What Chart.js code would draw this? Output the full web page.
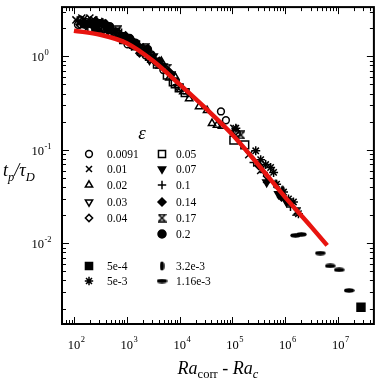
<!DOCTYPE html>
<html>
<head>
<meta charset="utf-8">
<script src="https://cdn.jsdelivr.net/npm/chart.js@4/dist/chart.umd.min.js"></script>
<style>
  html, body { margin: 0; padding: 0; background: #fff; }
  canvas { display: block; }
</style>
</head>
<body>
<canvas id="chart" width="381" height="382"></canvas>
<script>
// axis ranges (log scales)
const xMin = 59.4, xMax = 4.75e7;
const yMin = 0.00137, yMax = 3.36;
const xTickExps = ['2', '3', '4', '5', '6', '7'];
const yTickExps = ['-2', '-1', '0'];

// data, [Ra_corr - Ra_c, t_p/tau_D]
const eps0091 = [[119, 2.17], [168, 2.34], [336, 2.07], [671, 1.79], [1035, 1.34], [1463, 1.40], [2256, 1.025], [2925, 1.05], [4918, 0.713], [60560, 0.257], [75150, 0.207], [121000, 0.151]];
const eps001 = [[109, 2.45], [130, 2.28], [141, 2.57], [154, 2.51], [183, 2.34], [200, 2.57], [218, 2.39], [238, 2.45], [259, 2.22], [308, 2.34], [366, 2.12], [106200, 0.170], [203200, 0.0886], [341800, 0.0601], [443600, 0.0483]];
const eps002 = [[200, 2.17], [336, 2.28], [475, 1.97], [671, 1.66], [949, 1.55], [1463, 1.24], [2069, 1.21], [2925, 0.908], [4510, 0.886], [6377, 0.587], [8266, 0.601], [11690, 0.418], [15140, 0.353], [23330, 0.290], [33040, 0.264], [41020, 0.192], [50930, 0.183], [63240, 0.179]];
const eps003 = [[168, 2.12], [283, 2.34], [400, 2.02], [565, 1.71], [798, 1.66], [1231, 1.31], [1740, 1.24], [2683, 0.908], [3793, 0.865], [6952, 0.647], [9016, 0.472]];
const eps004 = [[130, 2.17], [238, 2.07], [366, 1.92], [565, 1.83], [798, 1.51], [1231, 1.51], [1740, 1.076], [2460, 1.076], [3478, 0.865], [5362, 0.748], [10716, 0.460], [115800, 0.158]];
const eps005 = [[283, 2.02], [436, 2.02], [616, 1.71], [871, 1.51], [1342, 1.34], [1897, 1.129], [2683, 1.0], [3793, 0.824], [5847, 0.631], [7580, 0.533], [8266, 0.508], [9822, 0.460], [12740, 0.408], [106200, 0.127], [171000, 0.113]];
const eps007 = [[141, 2.28], [259, 2.07], [436, 1.88], [616, 1.88], [1035, 1.47], [1342, 1.40], [2256, 1.129], [3190, 1.0], [4918, 0.785], [6952, 0.616], [443600, 0.0450], [745400, 0.0336], [1054000, 0.0277]];
const eps01 = [[119, 2.39], [183, 2.07], [308, 2.12], [518, 1.75], [798, 1.79], [1129, 1.44], [1740, 1.34], [3478, 0.952], [4510, 0.785], [13900, 0.398], [252300, 0.0730], [389300, 0.0573], [1253000, 0.0245]];
const eps014 = [[259, 2.39], [400, 2.22], [732, 1.62], [949, 1.66], [1596, 1.31], [2069, 1.102], [3190, 0.93], [4136, 0.886], [6377, 0.679], [313600, 0.0679], [849000, 0.0313]];
const eps017 = [[130, 2.39], [308, 1.97], [671, 1.92], [871, 1.585], [1897, 1.157], [2256, 1.24], [4136, 0.824], [5847, 0.748], [143900, 0.144], [1626000, 0.0217]];
const eps02 = [[154, 2.22], [218, 2.22], [259, 1.92], [366, 2.22], [475, 2.07], [1129, 1.55], [2460, 1.185]];
const eps5em4 = [[27040000, 0.00207]];
const eps5em3 = [[115800, 0.170], [275500, 0.0976], [341800, 0.0785], [424800, 0.0695], [527400, 0.0647], [600000, 0.0573], [683400, 0.0428], [924600, 0.0353], [1148000, 0.0298], [1426000, 0.0277], [1771000, 0.0207]];
const eps32em3 = [[654600, 0.0428], [885300, 0.0370], [1199000, 0.0277]];
const eps116em3 = [[1556000, 0.01214], [2018000, 0.01245], [4592000, 0.00785], [7079000, 0.00573], [10450000, 0.00520], [16100000, 0.00313]];

// red fit curve
const fitX = [100, 316, 1000, 3162, 10000, 31623, 100000, 316228, 1000000, 3162278, 6200000];
const fitY = [1.88, 1.70, 1.38, 0.89, 0.50, 0.275, 0.145, 0.068, 0.031, 0.0148, 0.0095];

// little canvases for the markers Chart.js has no style for
function markerCanvas(w, h, draw) {
    const c = document.createElement('canvas');
    c.width = w;
    c.height = h;
    const g = c.getContext('2d');
    g.fillStyle = '#000';
    g.strokeStyle = '#000';
    draw(g);
    return c;
}
const hourglass = markerCanvas(9, 9, g => {
    g.lineWidth = 1.5;
    g.beginPath();
    g.moveTo(1, 1); g.lineTo(8, 1); g.lineTo(1, 8); g.lineTo(8, 8); g.lineTo(1, 1);
    g.stroke();
});
const vLens = markerCanvas(5, 10, g => {
    g.beginPath();
    g.ellipse(2.5, 5, 2.2, 4.6, 0, 0, Math.PI * 2);
    g.fill();
});
const hLens = markerCanvas(11, 5, g => {
    g.beginPath();
    g.ellipse(5.5, 2.5, 5.2, 2.2, 0, 0, Math.PI * 2);
    g.fill();
});

const series = [
    { label: '0.0091', data: eps0091, style: 'circle', r: 3.4, filled: false },
    { label: '0.01', data: eps001, style: 'crossRot', r: 5, filled: false },
    { label: '0.02', data: eps002, style: 'triangle', r: 4.2, filled: false },
    { label: '0.03', data: eps003, style: 'triangle', r: 4.2, filled: false, rot: 180 },
    { label: '0.04', data: eps004, style: 'rectRot', r: 3.6, filled: false },
    { label: '0.05', data: eps005, style: 'rect', r: 5.5, filled: false },
    { label: '0.07', data: eps007, style: 'triangle', r: 4.5, filled: true, rot: 180 },
    { label: '0.1', data: eps01, style: 'cross', r: 4.2, filled: false },
    { label: '0.14', data: eps014, style: 'rectRot', r: 4, filled: true },
    { label: '0.17', data: eps017, style: hourglass, r: 4, filled: false },
    { label: '0.2', data: eps02, style: 'circle', r: 4, filled: true },
    { label: '5e-4', data: eps5em4, style: 'rect', r: 5.6, filled: true },
    { label: '5e-3', data: eps5em3, style: 'star', r: 4.5, filled: false },
    { label: '3.2e-3', data: eps32em3, style: vLens, r: 4, filled: true },
    { label: '1.16e-3', data: eps116em3, style: hLens, r: 4, filled: true }
];

// legend slots: [column, row y]
const legendSlots = {
    '0.0091': [0, 154], '0.01': [0, 169], '0.02': [0, 185], '0.03': [0, 202], '0.04': [0, 218],
    '0.05': [1, 154], '0.07': [1, 169], '0.1': [1, 185], '0.14': [1, 202], '0.17': [1, 218], '0.2': [1, 234],
    '5e-4': [0, 266], '5e-3': [0, 281], '3.2e-3': [1, 266], '1.16e-3': [1, 281]
};

const SERIF = '"Liberation Serif", "DejaVu Serif", serif';

const datasets = [{
    label: 'fit',
    data: fitX.map((x, i) => ({ x, y: fitY[i] })),
    showLine: true,
    borderColor: '#e8140f',
    borderWidth: 4.5,
    pointRadius: 0,
    cubicInterpolationMode: 'monotone',
    order: 0
}].concat(series.map(s => ({
    label: s.label,
    data: s.data.map(p => ({ x: p[0], y: p[1] })),
    pointStyle: s.style,
    pointRadius: s.r,
    pointRotation: s.rot || 0,
    pointBorderColor: '#000',
    pointBackgroundColor: s.filled ? '#000' : 'rgba(0,0,0,0)',
    pointBorderWidth: 1.5,
    showLine: false,
    order: 1
})));

function drawRuns(ctx, runs, x, baseline) {
    for (const r of runs) {
        ctx.font = r.font;
        ctx.fillText(r.text, x, baseline + (r.dy || 0));
        x += ctx.measureText(r.text).width;
    }
}
function runsWidth(ctx, runs) {
    let w = 0;
    for (const r of runs) {
        ctx.font = r.font;
        w += ctx.measureText(r.text).width;
    }
    return w;
}

const frame = {
    id: 'frame',
    afterDraw(chart) {
        const { ctx, chartArea: a, scales: { x, y } } = chart;
        ctx.save();
        ctx.strokeStyle = '#000';
        ctx.fillStyle = '#000';

        // inward ticks on all four sides
        ctx.lineWidth = 1;
        ctx.beginPath();
        for (let e = 1; e <= 7; e++) {
            for (let m = 1; m <= 9; m++) {
                const v = m * Math.pow(10, e);
                if (v < xMin || v > xMax) continue;
                const px = Math.round(x.getPixelForValue(v)) + 0.5;
                const len = m === 1 ? 7 : 4;
                ctx.moveTo(px, a.bottom); ctx.lineTo(px, a.bottom - len);
                ctx.moveTo(px, a.top); ctx.lineTo(px, a.top + len);
            }
        }
        for (let e = -3; e <= 0; e++) {
            for (let m = 1; m <= 9; m++) {
                const v = m * Math.pow(10, e);
                if (v < yMin || v > yMax) continue;
                const py = Math.round(y.getPixelForValue(v)) + 0.5;
                const len = m === 1 ? 7 : 4;
                ctx.moveTo(a.left, py); ctx.lineTo(a.left + len, py);
                ctx.moveTo(a.right, py); ctx.lineTo(a.right - len, py);
            }
        }
        ctx.stroke();

        ctx.lineWidth = 2;
        ctx.strokeRect(a.left, a.top, a.right - a.left, a.bottom - a.top);

        // tick labels 10^n
        ctx.textBaseline = 'alphabetic';
        ctx.textAlign = 'left';
        xTickExps.forEach(ex => {
            const px = x.getPixelForValue(Math.pow(10, +ex));
            ctx.font = '12.5px ' + SERIF;
            const w10 = ctx.measureText('10').width;
            ctx.fillText('10', px - w10 / 2, 349);
            ctx.font = '8.5px ' + SERIF;
            ctx.fillText(ex, px + w10 / 2 + 0.5, 342);
        });
        yTickExps.forEach(ex => {
            const py = y.getPixelForValue(Math.pow(10, +ex));
            ctx.font = '12.5px ' + SERIF;
            const w10 = ctx.measureText('10').width;
            ctx.fillText('10', 44 - w10, py + 5);
            ctx.font = '8.5px ' + SERIF;
            ctx.fillText(ex, 44.5, py - 1);
        });

        // axis titles
        const xTitle = [
            { text: 'Ra', font: 'italic 18px ' + SERIF },
            { text: 'corr', font: '12.5px ' + SERIF, dy: 4 },
            { text: ' - ', font: '18px ' + SERIF },
            { text: 'Ra', font: 'italic 18px ' + SERIF },
            { text: 'c', font: 'italic 12.5px ' + SERIF, dy: 4 }
        ];
        const xc = (a.left + a.right) / 2;
        drawRuns(ctx, xTitle, xc - runsWidth(ctx, xTitle) / 2, 374);
        const yTitle = [
            { text: 't', font: 'italic 18px ' + SERIF },
            { text: 'p', font: 'italic 12.5px ' + SERIF, dy: 5 },
            { text: '/', font: 'italic 18px ' + SERIF },
            { text: 'τ', font: 'italic 18px ' + SERIF },
            { text: 'D', font: 'italic 12.5px ' + SERIF, dy: 5 }
        ];
        drawRuns(ctx, yTitle, 3, 176);

        // legend
        ctx.font = 'italic 19px ' + SERIF;
        ctx.textAlign = 'center';
        ctx.fillText('ε', 142, 139);
        ctx.textAlign = 'left';
        ctx.textBaseline = 'middle';
        const markerX = [89, 162];
        const textX = [107, 176];
        series.forEach(s => {
            const slot = legendSlots[s.label];
            const col = slot[0], ry = slot[1];
            ctx.fillStyle = s.filled ? '#000' : 'rgba(0,0,0,0)';
            ctx.strokeStyle = '#000';
            ctx.lineWidth = 1.5;
            const r = typeof s.style === 'string' ? Math.min(s.r, 4.2) : s.r;
            Chart.helpers.drawPoint(ctx, {
                pointStyle: s.style,
                radius: s.style === 'rect' ? 5 : r,
                rotation: s.rot || 0,
                borderWidth: 1.5
            }, markerX[col], ry);
            ctx.fillStyle = '#000';
            ctx.font = '11.5px ' + SERIF;
            ctx.fillText(s.label, textX[col], ry + 0.5);
        });
        ctx.restore();
    }
};

new Chart(document.getElementById('chart'), {
    type: 'scatter',
    data: { datasets },
    options: {
        responsive: false,
        animation: false,
        events: [],
        layout: { padding: { left: 62, right: 5, top: 2, bottom: 58 } },
        scales: {
            x: { type: 'logarithmic', min: xMin, max: xMax, display: false },
            y: { type: 'logarithmic', min: yMin, max: yMax, display: false }
        },
        plugins: {
            legend: { display: false },
            tooltip: { enabled: false }
        }
    },
    plugins: [frame]
});
</script>
</body>
</html>
